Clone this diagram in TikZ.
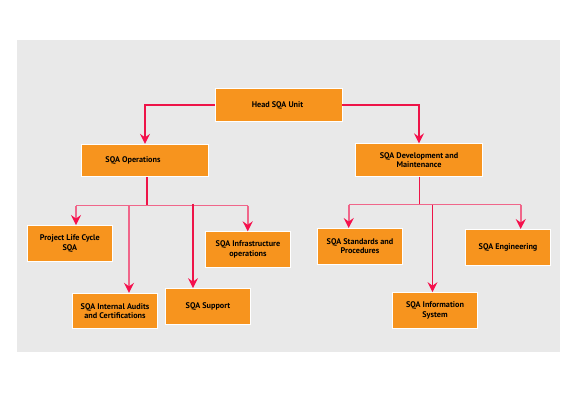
\documentclass[tikz,border=0pt]{standalone}
\usepackage{fontspec}
\setmainfont{PT Sans}
\usetikzlibrary{arrows.meta}
\definecolor{bggray}{HTML}{E9E9E9}
\definecolor{boxorange}{HTML}{F7941E}
\definecolor{linepink}{HTML}{F0668A}
\definecolor{linered}{HTML}{EE1448}
\definecolor{tipred}{HTML}{F5104C}
\tikzset{
  box/.style={draw=white, line width=0.8pt, fill=boxorange, inner sep=1pt,
    font=\bfseries\fontsize{8.2}{9.6}\selectfont, align=center, text=black},
  smallbox/.style={box, minimum width=85pt, minimum height=35.5pt},
  bigbox/.style={box, minimum width=127pt, minimum height=32.5pt},
  conn/.style={draw=linepink, line width=1.7pt,
    -{Stealth[length=10pt, width=10pt, inset=3.5pt, color=tipred]}},
  thinconn/.style={conn, draw=linered, line width=1.3pt},
  bus/.style={draw=linepink, line width=1.7pt},
  thinbus/.style={bus, draw=linered, line width=1.3pt},
}
\begin{document}
\begin{tikzpicture}[x=1pt, y=-1pt]
\useasboundingbox (0,0) rectangle (570,420);
\fill[bggray] (17,40) rectangle (560,352);

\node[bigbox] (head) at (278.5,105) {Head SQA Unit\hspace*{2pt}};
\node[bigbox] (ops) at (145,160.5) {SQA Operations\hspace*{24pt}};
\node[bigbox] (dev) at (419,160) {SQA Development and\\Maintenance};

\node[smallbox] (plc) at (69.8,243.2) {Project Life Cycle\\SQA};
\node[smallbox] (audit) at (115,311) {SQA Internal Audits\\and Certifications};
\node[smallbox] (supp) at (208,306.3) {SQA Support};
\node[smallbox] (infra) at (248,249.5) {SQA Infrastructure\\operations};
\node[smallbox] (std) at (360,246.2) {SQA Standards and\\Procedures};
\node[smallbox] (eng) at (508,247.2) {SQA Engineering};
\node[smallbox] (info) at (435,310.3) {SQA Information\\System};

% head connectors
\draw[thinconn] (head.west) -| (ops.north);
\draw[thinconn] (head.east) -| (dev.north);

% operations bus
\coordinate (opsj) at (147,205.5);
\coordinate (b1) at (76,205.5);
\coordinate (b2) at (129,205.5);
\coordinate (b3) at (193,203.5);
\coordinate (b4) at (247.7,205.5);
\draw[thinbus] (ops.south -| opsj) -- (opsj);
\draw[bus] (b1) -- (b4);
\draw[conn] (b1) -- (b1 |- plc.north);
\draw[conn] (b2) -- (b2 |- audit.north);
\draw[thinconn] (b3) -- (b3 |- supp.north);
\draw[conn] (b4) -- (b4 |- infra.north);

% development bus
\coordinate (devj) at (419.5,204.5);
\coordinate (c1) at (348.7,204.5);
\coordinate (c2) at (432.5,204.5);
\coordinate (c3) at (520.7,204.5);
\draw[thinbus] (dev.south -| devj) -- (devj);
\draw[bus] (c1) -- (c3);
\draw[conn] (c1) -- (c1 |- std.north);
\draw[thinconn] (c2) -- (c2 |- info.north);
\draw[conn] (c3) -- (c3 |- eng.north);
\end{tikzpicture}
\end{document}
